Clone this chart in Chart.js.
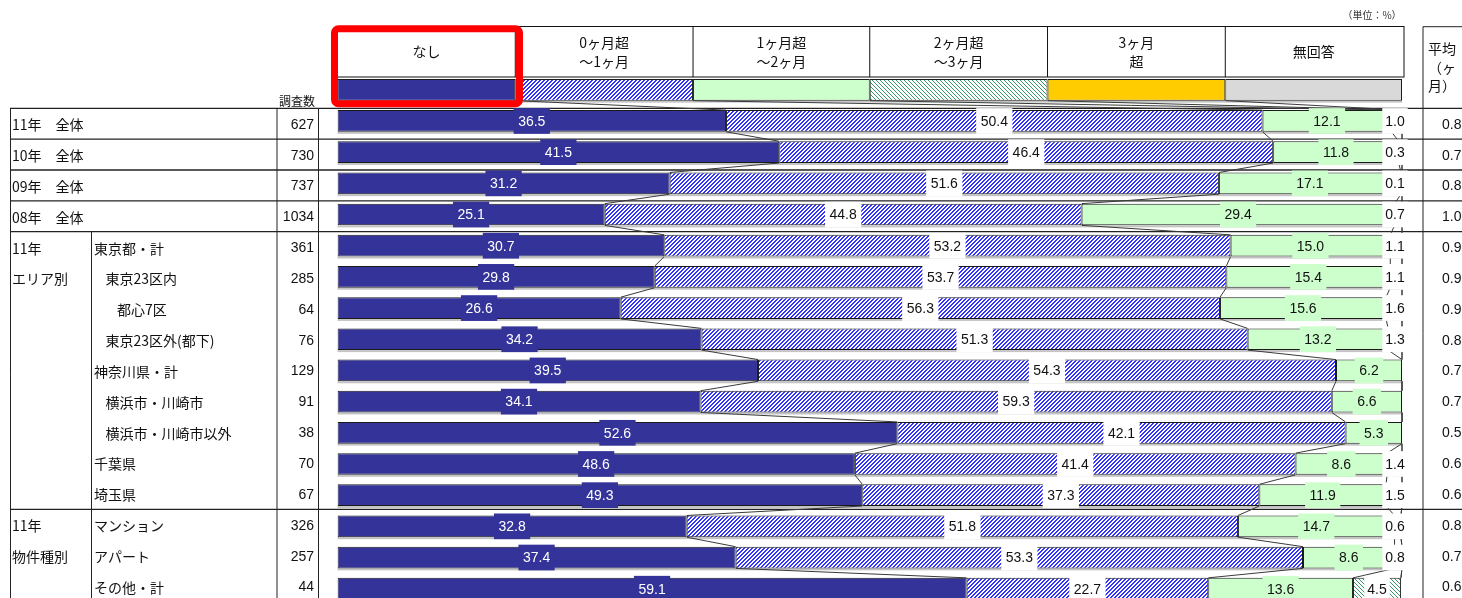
<!DOCTYPE html>
<html lang="ja">
<head>
  <meta charset="UTF-8">
  <title>滞納期間</title>
  <script src="https://cdn.jsdelivr.net/npm/chart.js"></script>
  <style>
    body { margin: 0; background: #fff; overflow: hidden; }
    #wrap { width: 1462px; height: 598px; overflow: hidden; }
    canvas { display: block; }
  </style>
</head>
<body>
<div id="wrap"><canvas id="chart" width="1462" height="640"></canvas></div>

<script>
// ---- data ----
const seriesNames = ['なし', '0ヶ月超\n～1ヶ月', '1ヶ月超\n～2ヶ月', '2ヶ月超\n～3ヶ月', '3ヶ月\n超', '無回答'];
const rowLabels = ['11年　全体', '10年　全体', '09年　全体', '08年　全体',
  '東京都・計', '東京23区内', '都心7区', '東京23区外(都下)', '神奈川県・計',
  '横浜市・川崎市', '横浜市・川崎市以外', '千葉県', '埼玉県',
  'マンション', 'アパート', 'その他・計'];
const indent = [0, 0, 0, 0, 0, 1, 2, 1, 0, 1, 1, 0, 0, 0, 0, 0];
const groupLabels = [['11年', 4], ['エリア別', 5], ['11年', 13], ['物件種別', 14]];
const sampleSizes = [627, 730, 737, 1034, 361, 285, 64, 76, 129, 91, 38, 70, 67, 326, 257, 44];

const none     = [36.5, 41.5, 31.2, 25.1, 30.7, 29.8, 26.6, 34.2, 39.5, 34.1, 52.6, 48.6, 49.3, 32.8, 37.4, 59.1];
const upTo1    = [50.4, 46.4, 51.6, 44.8, 53.2, 53.7, 56.3, 51.3, 54.3, 59.3, 42.1, 41.4, 37.3, 51.8, 53.3, 22.7];
const upTo2    = [12.1, 11.8, 17.1, 29.4, 15.0, 15.4, 15.6, 13.2, 6.2, 6.6, 5.3, 8.6, 11.9, 14.7, 8.6, 13.6];
const upTo3    = [1.0, 0.3, 0.1, 0.7, 1.1, 1.1, 1.6, 1.3, 0, 0, 0, 1.4, 1.5, 0.6, 0.8, 4.5];
const over3    = [0, 0, 0, 0, 0, 0, 0, 0, 0, 0, 0, 0, 0, 0, 0, 0];
const noAnswer = [0, 0, 0, 0, 0, 0, 0, 0, 0, 0, 0, 0, 0, 0, 0, 0];
const avgMonths = ['0.8', '0.7', '0.8', '1.0', '0.9', '0.9', '0.9', '0.8', '0.7', '0.7', '0.5', '0.6', '0.6', '0.8', '0.7', '0.6'];
// the legend strip above the bars is drawn as one more bar with equal parts
const legendShare = [16.7, 16.7, 16.6, 16.7, 16.7, 16.6];

const series = [none, upTo1, upTo2, upTo3, over3, noAnswer];

// ---- look ----
const JP = '"Noto Sans CJK JP", "Noto Sans", sans-serif';
const NUM = '"Liberation Sans", Arial, sans-serif';
const ROW_TOP = 108.3, ROW_H = 30.85, TEXT_Y0 = 124.8;

const mainCtx = document.getElementById('chart').getContext('2d');

// pixel hatch on white; thick = 2px wide diagonals
function hatch(color, forward, thick) {
  const c = document.createElement('canvas');
  c.width = 4; c.height = 4;
  const g = c.getContext('2d');
  g.fillStyle = '#fff';
  g.fillRect(0, 0, 4, 4);
  g.fillStyle = color;
  for (let i = 0; i < 4; i++) {
    const x = forward ? 3 - i : i;
    g.fillRect(x, i, 1, 1);
    if (thick) g.fillRect((x + 1) % 4, i, 1, 1);
  }
  return mainCtx.createPattern(c, 'repeat');
}

const fills = ['#333399', hatch('#3333ff', true, true), '#ccffcc', hatch('#339966', false, false), '#ffcc00', '#d9d9d9'];

function line(ctx, x1, y1, x2, y2) {
  ctx.beginPath();
  ctx.moveTo(x1, y1);
  ctx.lineTo(x2, y2);
  ctx.stroke();
}

function rowValues(i) {
  return i === 0 ? legendShare : series.map(s => s[i - 1]);
}

const tablePlugin = {
  id: 'table',
  beforeDatasetsDraw(chart) {
    const ctx = chart.ctx, xs = chart.scales.x;
    const meta = chart.getDatasetMeta(0);
    const x0 = xs.getPixelForValue(0), x100 = xs.getPixelForValue(100);
    ctx.save();

    // faint shadow under each bar
    ctx.fillStyle = '#c4c4c4';
    meta.data.forEach(el => ctx.fillRect(x0, el.y + el.height / 2, x100 - x0, 2));

    // table rules
    ctx.strokeStyle = '#222';
    ctx.lineWidth = 1.3;
    [0, 1, 2, 3, 4, 13].forEach(k => {
      const y = ROW_TOP + ROW_H * k;
      line(ctx, 10, y, 1462, y);
    });
    ctx.lineWidth = 1;
    line(ctx, 10.5, ROW_TOP, 10.5, 640);
    line(ctx, 91.5, ROW_TOP + ROW_H * 4, 91.5, 640);
    line(ctx, 277, ROW_TOP, 277, 640);
    line(ctx, 318.5, ROW_TOP, 318.5, 640);
    line(ctx, 1423, 26.7, 1423, 640);
    line(ctx, 1423, 26.7, 1462, 26.7);

    // header cells
    let cum = 0;
    const bounds = [xs.getPixelForValue(0)];
    legendShare.forEach(v => { cum += v; bounds.push(xs.getPixelForValue(cum)); });
    ctx.strokeStyle = '#111';
    ctx.strokeRect(bounds[0], 26.5, bounds[6] + 2 - bounds[0], 50.5);
    for (let k = 1; k < 6; k++) line(ctx, bounds[k], 26.5, bounds[k], 77);
    ctx.fillStyle = '#111';
    ctx.font = '14px ' + JP;
    ctx.textAlign = 'center';
    ctx.textBaseline = 'middle';
    seriesNames.forEach((name, k) => {
      const cx = (bounds[k] + bounds[k + 1]) / 2;
      const parts = name.split('\n');
      if (parts.length === 1) ctx.fillText(parts[0], cx, 52);
      else { ctx.fillText(parts[0], cx, 43); ctx.fillText(parts[1], cx, 62); }
    });

    ctx.font = '12px ' + JP;
    ctx.fillText('調査数', 297, 101);
    ctx.font = '10px ' + JP;
    ctx.fillStyle = '#333';
    ctx.fillText('（単位：%）', 1372, 15);

    // average header
    ctx.fillStyle = '#111';
    ctx.font = '14px ' + JP;
    ctx.textAlign = 'left';
    ctx.fillText('平均', 1428, 48.5);
    ctx.fillText('（ヶ', 1428, 67.5);
    ctx.fillText('月）', 1428, 86);

    // row texts
    rowLabels.forEach((lab, i) => {
      const y = TEXT_Y0 + ROW_H * i;
      ctx.font = '14px ' + JP;
      ctx.textAlign = 'left';
      ctx.fillText(lab, i < 4 ? 12 : 94 + indent[i] * 11.5, y);
      ctx.font = '14px ' + NUM;
      ctx.textAlign = 'right';
      ctx.fillText(String(sampleSizes[i]), 314, y);
      ctx.textAlign = 'left';
      ctx.fillText(avgMonths[i], 1442, y);
    });
    ctx.font = '14px ' + JP;
    ctx.textAlign = 'left';
    groupLabels.forEach(([t, r]) => ctx.fillText(t, 12, TEXT_Y0 + ROW_H * r));
    ctx.restore();
  },

  afterDatasetsDraw(chart) {
    const ctx = chart.ctx, xs = chart.scales.x;
    const meta0 = chart.getDatasetMeta(0);
    ctx.save();

    // series lines between neighbouring bars
    ctx.strokeStyle = '#3a3a3a';
    ctx.lineWidth = 1;
    const n = meta0.data.length;
    for (let i = 0; i < n - 1; i++) {
      const a = rowValues(i), b = rowValues(i + 1);
      const elA = meta0.data[i], elB = meta0.data[i + 1];
      const yA = elA.y + elA.height / 2, yB = elB.y - elB.height / 2;
      let ca = 0, cb = 0;
      for (let k = 0; k < 5; k++) {
        ca += a[k]; cb += b[k];
        line(ctx, xs.getPixelForValue(Math.min(ca, 100)), yA, xs.getPixelForValue(Math.min(cb, 100)), yB);
      }
    }

    // data labels
    ctx.font = '14px ' + NUM;
    ctx.textAlign = 'center';
    ctx.textBaseline = 'middle';
    for (let k = 0; k < 4; k++) {
      const meta = chart.getDatasetMeta(k);
      series[k].forEach((v, r) => {
        if (!v) return;
        const el = meta.data[r + 1];
        const top = el.y - el.height / 2, bot = el.y + el.height / 2;
        let cx = (el.x + el.base) / 2;
        if (k === 3 && v < 3) cx = chart.chartArea.right - 7;
        const txt = v.toFixed(1);
        const w = ctx.measureText(txt).width + (k === 3 ? 6 : 9);
        ctx.fillStyle = k === 0 ? '#333399' : k === 2 ? '#ccffcc' : '#fff';
        ctx.fillRect(cx - w / 2, top - 2, w, bot - top + 4);
        ctx.fillStyle = k === 0 ? '#fff' : '#111';
        ctx.fillText(txt, cx, el.y + 1);
      });
    }
    ctx.restore();
  },

  afterDraw(chart) {
    const ctx = chart.ctx;
    ctx.save();
    ctx.strokeStyle = '#ff0000';
    ctx.lineWidth = 7;
    ctx.beginPath();
    ctx.roundRect(334.5, 28.8, 185, 75, 4);
    ctx.stroke();
    ctx.restore();
  }
};

const datasets = series.map((vals, k) => ({
  label: seriesNames[k],
  data: [legendShare[k], ...vals].map(v => (v === 0 ? null : v)),
  backgroundColor: fills[k],
  borderColor: '#1a1a1a',
  borderWidth: 1,
  borderSkipped: false,
  barPercentage: 0.696,
  categoryPercentage: 1
}));

new Chart(mainCtx, {
  type: 'bar',
  data: { labels: ['', ...rowLabels], datasets },
  options: {
    indexAxis: 'y',
    responsive: false,
    animation: false,
    devicePixelRatio: 1,
    layout: { padding: { left: 337.5, right: 60, top: 74.2, bottom: 35.7 } },
    scales: {
      x: { stacked: true, min: 0, max: 100, display: false },
      y: { stacked: true, display: false }
    },
    plugins: { legend: { display: false }, tooltip: { enabled: false } }
  },
  plugins: [tablePlugin]
});
</script>
</body>
</html>
